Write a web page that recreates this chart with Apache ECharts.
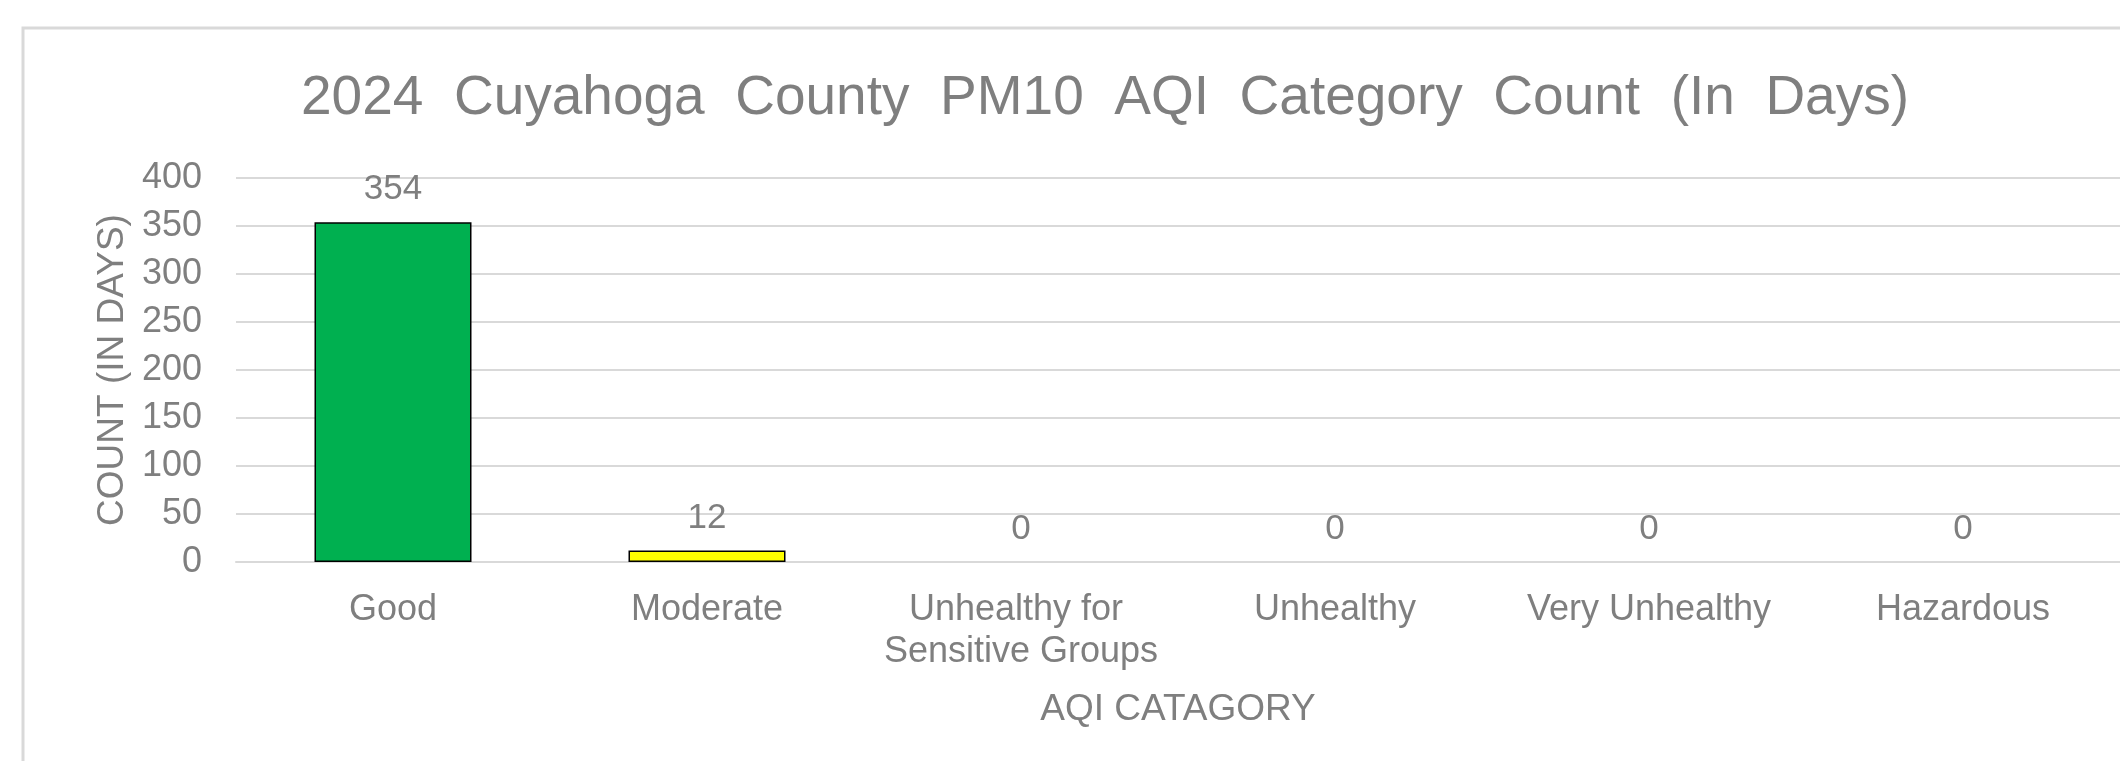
<!DOCTYPE html>
<html>
<head>
<meta charset="utf-8">
<script src="https://cdn.jsdelivr.net/npm/echarts@6/dist/echarts.min.js"></script>
<style>
html,body{margin:0;padding:0;background:#fff;}
#chart{width:2120px;height:761px;}
</style>
</head>
<body>
<div id="chart"></div>
<script>
// ---- data ----
const titleText = "2024  Cuyahoga  County  PM10  AQI  Category  Count  (In  Days)";
const categories = ["Good", "Moderate", "Unhealthy for Sensitive Groups", "Unhealthy", "Very Unhealthy", "Hazardous"];
const dayCounts = [354, 12, 0, 0, 0, 0];
const yTicks = { min: 0, max: 400, interval: 50 };
const yAxisName = "COUNT (IN DAYS)";
const xAxisName = "AQI CATAGORY";

// ---- style ----
const barColors = ["#00b050", "#ffff00", "#ff9900", "#ff0000", "#7030a0", "#7f0000"];
const textColor = "#7f7f7f";
const gridColor = "#d9d9d9";
const fontFamily = "'Liberation Sans', Arial, sans-serif";

const chart = echarts.init(document.getElementById('chart'), null, { renderer: 'canvas' });

const seriesData = dayCounts.map((v, i) => ({
  value: v,
  itemStyle: {
    color: barColors[i],
    borderColor: '#000',
    borderWidth: v > 0 ? 1.5 : 0
  }
}));

chart.setOption({
  backgroundColor: '#fff',
  animation: false,
  textStyle: { fontFamily: fontFamily },
  title: {
    text: titleText,
    left: 296,
    top: 66,
    textStyle: { fontSize: 55, fontWeight: 'normal', color: textColor, fontFamily: fontFamily }
  },
  graphic: [{
    type: 'rect',
    silent: true,
    z: -1,
    shape: { x: 23, y: 28, width: 2300, height: 900 },
    style: { fill: 'none', stroke: gridColor, lineWidth: 3 }
  }],
  grid: { left: 236, right: -11, top: 178, bottom: 199, containLabel: false },
  xAxis: {
    type: 'category',
    data: categories,
    name: xAxisName,
    nameLocation: 'middle',
    nameGap: 129,
    nameTextStyle: { fontSize: 37, color: textColor, fontFamily: fontFamily },
    axisLine: { show: true, lineStyle: { color: gridColor, width: 2 } },
    axisTick: { show: false },
    axisLabel: {
      fontSize: 36,
      color: textColor,
      margin: 27,
      lineHeight: 42,
      width: 290,
      overflow: 'break',
      interval: 0,
      fontFamily: fontFamily
    }
  },
  yAxis: {
    type: 'value',
    min: yTicks.min,
    max: yTicks.max,
    interval: yTicks.interval,
    name: yAxisName,
    nameLocation: 'middle',
    nameGap: 104,
    nameRotate: 90,
    nameTextStyle: { fontSize: 37, color: textColor, fontFamily: fontFamily },
    axisLine: { show: false },
    axisTick: { show: false },
    axisLabel: { fontSize: 36, color: textColor, margin: 34, fontFamily: fontFamily },
    splitLine: { show: true, lineStyle: { color: gridColor, width: 2 } }
  },
  series: [{
    type: 'bar',
    data: seriesData,
    barWidth: '50%',
    label: {
      show: true,
      position: 'top',
      distance: 15,
      fontSize: 35,
      color: textColor,
      fontFamily: fontFamily
    }
  }]
});
</script>
</body>
</html>
